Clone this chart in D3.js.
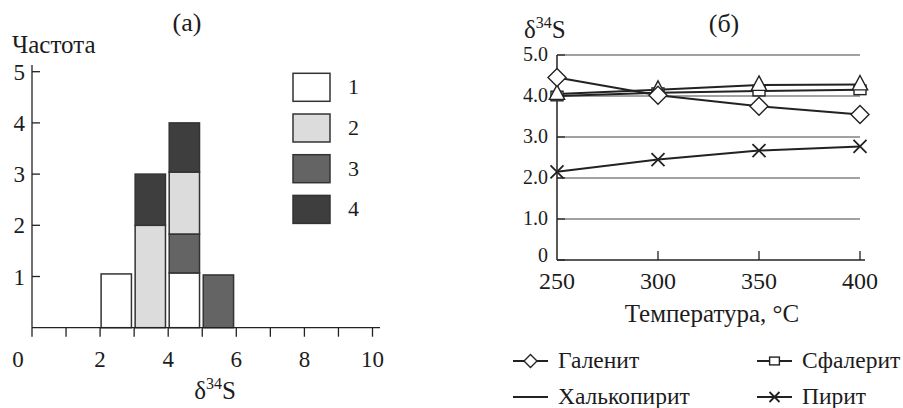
<!DOCTYPE html>
<html><head><meta charset="utf-8">
<script src="https://cdn.jsdelivr.net/npm/d3@7"></script>
<style>
body{margin:0;background:#fff}
</style></head>
<body><svg id="c" width="903" height="408"></svg>
<script>
// ---- Chart (a) data ----
const bins = [2, 3, 4, 5];
const type1 = [1.05, 0, 1.07, 0];
const type2 = [0, 2, 1.21, 0];
const type3 = [0, 0, 0.76, 1.03];
const type4 = [0, 1, 0.96, 0];
const legendA = ["1", "2", "3", "4"];
const xTicksA = [0,1,2,3,4,5,6,7,8,9,10];
const xLabelsA = [0,2,4,6,8,10];
const yTicksA = [1,2,3,4,5];

// ---- Chart (б) data ----
const temps = [250, 300, 350, 400];
const galena = [4.45, 4.02, 3.75, 3.55];
const sphalerite = [4.0, 4.08, 4.12, 4.15];
const chalcopyrite = [4.05, 4.15, 4.27, 4.28];
const pyrite = [2.15, 2.45, 2.67, 2.77];
const yTicksB = [0, 1, 2, 3, 4, 5];
const seriesNames = ["Галенит", "Сфалерит", "Халькопирит", "Пирит"];

const svg = d3.select("#c");
const ink = "#222";
const txt = "#1c1c1c";
const FF = "Liberation Serif";

function addText(g, x, y, s, size, anchor) {
  return g.append("text").attr("x", x).attr("y", y).attr("font-family", FF)
    .attr("font-size", size).attr("fill", txt).attr("text-anchor", anchor || "start").text(s);
}

// ================= Chart (a) =================
const xA = d3.scaleLinear().domain([0, 10]).range([32, 372.5]);
const yA = d3.scaleLinear().domain([0, 5]).range([327.7, 71.7]);
const gA = svg.append("g");

const keys = ["t1", "t3", "t2", "t4"];
const fills = {t1: "#ffffff", t2: "#dcdcdd", t3: "#646464", t4: "#3e3e3e"};
const rows = bins.map((b, i) => ({bin: b, t1: type1[i], t2: type2[i], t3: type3[i], t4: type4[i]}));
const stacked = d3.stack().keys(keys)(rows);
stacked.forEach(layer => {
  gA.selectAll(null).data(layer.filter(d => d[1] - d[0] > 0)).enter().append("rect")
    .attr("x", d => xA(d.data.bin) + 1)
    .attr("width", d => xA(d.data.bin + 0.92) - xA(d.data.bin) - 1)
    .attr("y", d => yA(d[1]))
    .attr("height", d => yA(d[0]) - yA(d[1]))
    .attr("fill", fills[layer.key])
    .attr("stroke", "#333").attr("stroke-width", 1.5);
});

// axes
gA.append("line").attr("x1", xA(0)).attr("x2", 380).attr("y1", yA(0)).attr("y2", yA(0)).attr("stroke", ink).attr("stroke-width", 1.3);
gA.append("line").attr("x1", xA(0)).attr("x2", xA(0)).attr("y1", yA(0)).attr("y2", 65).attr("stroke", ink).attr("stroke-width", 1.3);
gA.selectAll(null).data(xTicksA).enter().append("line")
  .attr("x1", d => xA(d)).attr("x2", d => xA(d)).attr("y1", yA(0)).attr("y2", yA(0) + 9)
  .attr("stroke", ink).attr("stroke-width", 1.3);
xLabelsA.forEach(d => addText(gA, xA(d) + (d === 0 ? -14 : 0), 367, d, 23, "middle"));
gA.selectAll(null).data(yTicksA).enter().append("line")
  .attr("x1", xA(0)).attr("x2", xA(0) + 8).attr("y1", d => yA(d)).attr("y2", d => yA(d))
  .attr("stroke", ink).attr("stroke-width", 1.3);
yTicksA.forEach(d => addText(gA, 25, yA(d) + 8, d, 23, "end"));

addText(gA, 12, 53, "Частота", 25);
addText(gA, 187, 31, "(a)", 26, "middle");
const lblA = addText(gA, 215, 399, "", 25, "middle");
lblA.append("tspan").text("δ");
lblA.append("tspan").attr("font-size", 16).attr("dy", -10).text("34");
lblA.append("tspan").attr("dy", 10).text("S");

// legend (a)
const legFill = [fills.t1, fills.t2, fills.t3, fills.t4];
legendA.forEach((l, i) => {
  const y0 = 73.3 + i * 40.7;
  gA.append("rect").attr("x", 293).attr("y", y0).attr("width", 37).attr("height", 28)
    .attr("fill", legFill[i]).attr("stroke", "#333").attr("stroke-width", 1.5);
  addText(gA, 348, y0 + 21, l, 22);
});

// ================= Chart (б) =================
const xB = d3.scaleLinear().domain([250, 400]).range([557, 860]);
const yB = d3.scaleLinear().domain([0, 5]).range([260, 55]);
const gB = svg.append("g");

// gridlines
gB.selectAll(null).data(yTicksB.filter(d => d > 0)).enter().append("line")
  .attr("x1", xB(250)).attr("x2", xB(400)).attr("y1", d => yB(d)).attr("y2", d => yB(d))
  .attr("stroke", "#444").attr("stroke-width", 1.2);
// axes
gB.append("line").attr("x1", xB(250)).attr("x2", 865).attr("y1", yB(0)).attr("y2", yB(0)).attr("stroke", ink).attr("stroke-width", 1.5);
gB.append("line").attr("x1", xB(250)).attr("x2", xB(250)).attr("y1", yB(0)).attr("y2", yB(5)).attr("stroke", ink).attr("stroke-width", 1.5);
gB.selectAll(null).data(yTicksB).enter().append("line")
  .attr("x1", xB(250)).attr("x2", xB(250) + 8).attr("y1", d => yB(d)).attr("y2", d => yB(d))
  .attr("stroke", ink).attr("stroke-width", 1.2);
gB.selectAll(null).data(temps.slice(1)).enter().append("line")
  .attr("x1", d => xB(d)).attr("x2", d => xB(d)).attr("y1", yB(0)).attr("y2", yB(0) - 9)
  .attr("stroke", ink).attr("stroke-width", 1.3);
yTicksB.forEach(d => addText(gB, 548, yB(d) + (d === 0 ? 2 : 6), d === 0 ? "0" : d3.format(".1f")(d), 20, "end"));
temps.forEach(d => addText(gB, xB(d), 289, d, 24, "middle"));
addText(gB, 712, 322, "Температура, °C", 25, "middle");
addText(gB, 724, 32, "(б)", 26, "middle");
const lblB = addText(gB, 524, 38, "", 25);
lblB.append("tspan").text("δ");
lblB.append("tspan").attr("font-size", 16).attr("dy", -10).text("34");
lblB.append("tspan").attr("dy", 10).text("S");

// series
const line = d3.line().x((d, i) => xB(temps[i])).y(d => yB(d));
const allSeries = [
  {vals: chalcopyrite, marker: "triangle"},
  {vals: sphalerite, marker: "square"},
  {vals: galena, marker: "diamond"},
  {vals: pyrite, marker: "x"}
];
function drawMarker(g, type, cx, cy, s) {
  if (type === "diamond") {
    g.append("path").attr("d", `M${cx},${cy - s}L${cx + s},${cy}L${cx},${cy + s}L${cx - s},${cy}Z`)
      .attr("fill", "#fff").attr("stroke", ink).attr("stroke-width", 1.4);
  } else if (type === "square") {
    g.append("rect").attr("x", cx - s * 0.75).attr("y", cy - s * 0.6).attr("width", s * 1.5).attr("height", s * 1.2)
      .attr("fill", "#fff").attr("stroke", ink).attr("stroke-width", 1.4);
  } else if (type === "triangle") {
    g.append("path").attr("d", `M${cx},${cy - s}L${cx + s * 0.85},${cy + s * 0.6}L${cx - s * 0.85},${cy + s * 0.6}Z`)
      .attr("fill", "#fff").attr("stroke", ink).attr("stroke-width", 1.4);
  } else if (type === "x") {
    g.append("path").attr("d", `M${cx - s},${cy - s}L${cx + s},${cy + s}M${cx - s},${cy + s}L${cx + s},${cy - s}`)
      .attr("fill", "none").attr("stroke", ink).attr("stroke-width", 1.8);
  }
}
allSeries.forEach(s => {
  gB.append("path").attr("d", line(s.vals)).attr("fill", "none").attr("stroke", ink).attr("stroke-width", 2);
});
const sizes = {triangle: 9, square: 8, diamond: 9, x: 6.5};
[allSeries[1], allSeries[0], allSeries[2], allSeries[3]].forEach(s => {
  s.vals.forEach((v, i) => drawMarker(gB, s.marker, xB(temps[i]), yB(v), sizes[s.marker]));
});

// legend (б)
const legItems = [
  {name: seriesNames[0], marker: "diamond", x: 513, y: 368},
  {name: seriesNames[1], marker: "square", x: 757, y: 368},
  {name: seriesNames[2], marker: null, x: 513, y: 404},
  {name: seriesNames[3], marker: "x", x: 757, y: 404}
];
legItems.forEach(it => {
  const ly = it.y - 7;
  gB.append("line").attr("x1", it.x).attr("x2", it.x + 35).attr("y1", ly).attr("y2", ly)
    .attr("stroke", ink).attr("stroke-width", 1.8);
  if (it.marker) drawMarker(gB, it.marker, it.x + 17.5, ly, it.marker === "x" ? 5 : 6.5);
  addText(gB, it.x + 45, it.y, it.name, 23.5);
});
</script></body></html>
